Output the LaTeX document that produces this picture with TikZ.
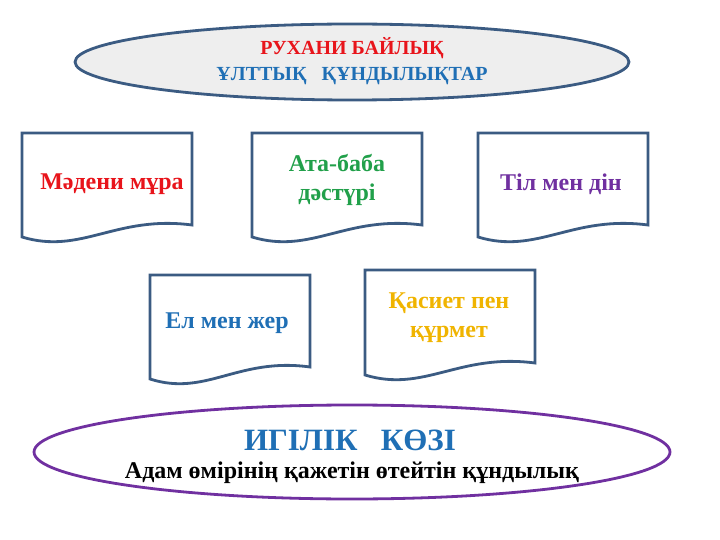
\documentclass[tikz,border=0pt]{standalone}
\usepackage{fontspec}
\setmainfont{Liberation Serif}
\usetikzlibrary{shapes.geometric}
\definecolor{bord}{HTML}{3B5B82}
\definecolor{cred}{HTML}{E8141B}
\definecolor{cblue}{HTML}{1F6FB5}
\definecolor{cgreen}{HTML}{21A04A}
\definecolor{cpurple}{HTML}{7030A0}
\definecolor{cgold}{HTML}{F0B400}
\definecolor{lgray}{HTML}{EEEEEE}
\newcommand{\docshape}[4]{% x0 y0 x1 yb
  \draw[docb] (#1,#2) -- (#3,#2) -- (#3,#4-20)
    .. controls ({#3-0.45*(#3-#1)},#4-30) and ({#1+0.35*(#3-#1)},#4+10) .. (#1,#4-8) -- cycle;}
\tikzset{docb/.style={draw=bord,line width=2.8pt,fill=white},
  lbl/.style={font=\fontsize{24}{29}\selectfont\bfseries,align=center}}
\begin{document}
\begin{tikzpicture}[x=1pt,y=-1pt]
\useasboundingbox (0,0) rectangle (720,540);
\node[ellipse,draw=bord,line width=2.8pt,fill=lgray,minimum width=554pt,minimum height=76pt] (top) at (352,62) {};
\node[font=\fontsize{20}{24}\selectfont\bfseries,text=cred] (t1) at (352,48) {РУХАНИ БАЙЛЫҚ};
\node[font=\fontsize{20}{24}\selectfont\bfseries,text=cblue] (t2) at (352,76) {ҰЛТТЫҚ \ \ ҚҰНДЫЛЫҚТАР};
\docshape{22}{133}{192}{245}
\docshape{252}{133}{422}{245}
\docshape{478}{133}{648}{245}
\docshape{150}{275}{310}{387}
\docshape{365}{270}{535}{383}
\node[lbl,text=cred] (b1) at (112,184) {Мәдени мұра};
\node[lbl,text=cgreen] (b2) at (337,180) {Ата-баба\\дәстүрі};
\node[lbl,text=cpurple] (b3) at (561,184) {Тіл мен дін};
\node[lbl,text=cblue] (b4) at (227,323) {Ел мен жер};
\node[lbl,text=cgold] (b5) at (449,318) {Қасиет пен\\құрмет};
\node[ellipse,draw=cpurple,line width=2.8pt,fill=white,minimum width=636pt,minimum height=94pt] (bot) at (352,452) {};
\node[font=\fontsize{31}{36}\selectfont\bfseries,text=cblue] (g1) at (350,440) {ИГІЛІК \ \ КӨЗІ};
\node[font=\fontsize{24}{28}\selectfont\bfseries] (g2) at (352,473) {Адам өмірінің қажетін өтейтін құндылық};
\end{tikzpicture}
\end{document}
